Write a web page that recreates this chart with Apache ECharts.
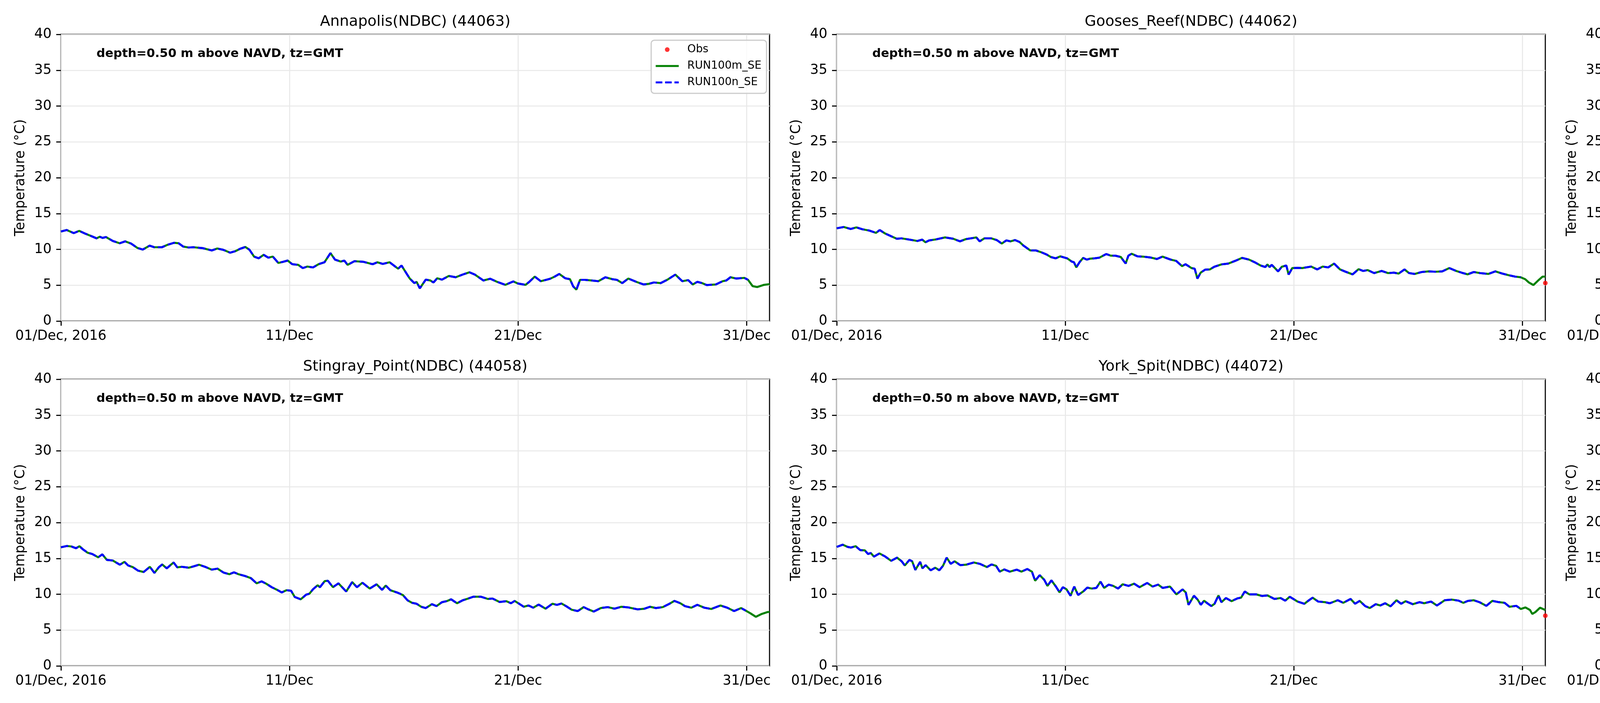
<!DOCTYPE html>
<html>
<head>
<meta charset="utf-8">
<script src="https://cdn.jsdelivr.net/npm/echarts@6/dist/echarts.min.js"></script>
<style>html,body{margin:0;padding:0;background:#fff}#c{width:6000px;height:1800px}</style>
</head>
<body>
<div id="c"></div>
<script>
// ---- data (x = days since 01/Dec/2016 00:00 GMT, y = temperature in degC) ----
const stationTitles = ['Annapolis(NDBC) (44063)', 'Gooses_Reef(NDBC) (44062)', 'Potomac(NDBC) (44042)',
  'Stingray_Point(NDBC) (44058)', 'York_Spit(NDBC) (44072)', 'First_Landing(NDBC) (44064)'];
const seriesNames = ['Obs', 'RUN100m_SE', 'RUN100n_SE'];
const xTickDays = [0, 10, 20, 30];
const xTickLabels = ['01/Dec, 2016', '11/Dec', '21/Dec', '31/Dec'];
const annotationText = 'depth=0.50 m above NAVD, tz=GMT';

// shared RUN100m/RUN100n values (both runs overlap to ~30 Dec)
const annapolisRun = [[0,12.49],[0.25,12.7],[0.56,12.27],[0.8,12.58],[1.06,12.2],[1.26,11.94],[1.56,11.54],[1.7,11.76],[1.82,11.6],[1.97,11.72],[2.27,11.17],[2.57,10.85],[2.81,11.12],[3.07,10.81],[3.34,10.21],[3.58,9.97],[3.88,10.52],[4.08,10.3],[4.42,10.3],[4.68,10.66],[4.95,10.92],[5.15,10.85],[5.35,10.39],[5.59,10.26],[5.79,10.3],[6.2,10.17],[6.6,9.85],[6.84,10.12],[7.1,9.94],[7.4,9.54],[7.64,9.76],[7.84,10.08],[8.07,10.34],[8.25,9.94],[8.45,8.99],[8.65,8.75],[8.87,9.24],[9.07,8.84],[9.27,8.99],[9.51,8.11],[9.71,8.26],[9.92,8.44],[10.12,7.93],[10.38,7.84],[10.58,7.39],[10.78,7.6],[11.03,7.48],[11.27,7.93],[11.53,8.2],[11.79,9.48],[11.99,8.57],[12.24,8.3],[12.4,8.43],[12.54,7.84],[12.84,8.35],[13.24,8.26],[13.64,7.93],[13.84,8.2],[14.08,7.97],[14.38,8.2],[14.75,7.3],[14.9,7.75],[15.15,6.48],[15.26,5.93],[15.46,5.29],[15.56,5.47],[15.7,4.56],[15.96,5.78],[16.16,5.66],[16.3,5.38],[16.46,5.97],[16.67,5.78],[16.97,6.29],[17.27,6.11],[17.57,6.48],[17.87,6.8],[18.11,6.48],[18.48,5.66],[18.78,5.9],[19.08,5.47],[19.44,5.05],[19.79,5.53],[19.99,5.24],[20.33,5.05],[20.49,5.47],[20.73,6.2],[20.99,5.56],[21.26,5.78],[21.4,5.9],[21.6,6.2],[21.8,6.57],[22.06,5.97],[22.27,5.84],[22.41,4.84],[22.55,4.38],[22.71,5.75],[22.91,5.75],[23.21,5.66],[23.51,5.56],[23.82,6.11],[24.12,5.84],[24.32,5.75],[24.56,5.29],[24.82,5.93],[25.17,5.47],[25.49,5.1],[25.73,5.2],[25.94,5.38],[26.24,5.29],[26.54,5.78],[26.88,6.48],[27.18,5.56],[27.44,5.71],[27.64,5.1],[27.84,5.47],[28.05,5.29],[28.25,5.02],[28.65,5.1],[28.95,5.56],[29.11,5.66],[29.29,6.11],[29.55,5.93],[29.9,6.02],[30.06,5.75]];
const annapolisTail = [[30.26,4.87],[30.46,4.74],[30.76,5.05],[31,5.15]];
const annapolisObs = [];

const goosesRun = [[0,12.94],[0.31,13.12],[0.61,12.85],[0.86,13.07],[1.12,12.81],[1.42,12.63],[1.72,12.3],[1.88,12.7],[2.12,12.21],[2.43,11.76],[2.63,11.48],[2.83,11.54],[3.13,11.39],[3.53,11.17],[3.74,11.36],[3.88,10.99],[4.04,11.25],[4.34,11.39],[4.74,11.67],[5.1,11.48],[5.39,11.12],[5.65,11.43],[5.95,11.58],[6.11,11.67],[6.25,11.12],[6.46,11.54],[6.76,11.54],[7.0,11.3],[7.22,10.81],[7.42,11.25],[7.6,11.12],[7.8,11.3],[8.0,11.03],[8.17,10.52],[8.31,10.21],[8.47,9.85],[8.71,9.85],[8.97,9.57],[9.17,9.3],[9.37,8.93],[9.58,8.75],[9.78,9.03],[10.08,8.75],[10.28,8.3],[10.38,8.2],[10.48,7.48],[10.62,8.2],[10.78,8.81],[10.94,8.57],[11.08,8.7],[11.29,8.75],[11.49,8.84],[11.79,9.35],[11.99,9.12],[12.19,9.12],[12.43,8.93],[12.64,8.02],[12.76,9.12],[12.9,9.39],[13.16,9.03],[13.4,8.99],[13.7,8.88],[14.01,8.66],[14.25,8.99],[14.61,8.57],[14.85,8.39],[15.11,7.66],[15.26,7.93],[15.52,7.39],[15.66,7.3],[15.78,5.93],[15.92,6.75],[16.12,7.17],[16.32,7.2],[16.52,7.57],[16.83,7.9],[17.13,8.02],[17.43,8.39],[17.73,8.81],[18.04,8.57],[18.28,8.21],[18.54,7.75],[18.75,7.53],[18.84,7.9],[18.94,7.53],[19.03,7.84],[19.17,7.39],[19.31,6.93],[19.47,7.57],[19.67,7.75],[19.77,6.48],[19.93,7.39],[20.17,7.42],[20.37,7.39],[20.76,7.6],[21.02,7.2],[21.26,7.6],[21.5,7.48],[21.76,8.02],[22.02,7.2],[22.26,6.88],[22.57,6.51],[22.83,7.24],[23.03,6.99],[23.23,7.11],[23.51,6.69],[23.84,6.99],[24.12,6.69],[24.38,6.75],[24.58,6.62],[24.84,7.2],[25.04,6.69],[25.28,6.57],[25.59,6.84],[25.89,6.93],[26.19,6.88],[26.49,6.93],[26.8,7.39],[27.1,6.99],[27.34,6.75],[27.6,6.51],[27.87,6.84],[28.15,6.69],[28.51,6.57],[28.81,6.93],[29.12,6.62],[29.42,6.38],[29.68,6.2],[29.92,6.11]];
const goosesTail = [[30.12,5.84],[30.28,5.38],[30.48,5.02],[30.72,5.75],[30.88,6.2],[31,6.2]];
const goosesObs = [[31,5.3]];

const potomacRun = [[0,15.62],[0.18,15.22],[0.38,15.13],[0.58,14.58],[0.68,14.67],[0.83,15.07],[0.99,14.4],[1.19,14.03],[1.39,13.8],[1.59,13.43],[1.79,13.8],[1.99,13.12],[2.2,12.89],[2.5,12.4],[2.74,12.52],[3.0,12.27],[3.3,11.79],[3.51,11.48],[3.67,11.76],[3.85,12.09],[4.01,11.79],[4.21,11.48],[4.31,11.98],[4.47,12.03],[4.61,11.72],[4.71,12.03],[4.88,13.98],[5.02,13.25],[5.22,13.43],[5.36,13.85],[5.52,13.36],[5.68,13.67],[5.92,13.4],[6.13,13.4],[6.37,13.4],[6.53,13.21],[6.77,13.25],[6.93,13.07],[7.13,12.81],[7.37,12.12],[7.54,12.58],[7.7,11.94],[7.94,12.4],[8.14,12.12],[8.38,11.67],[8.54,11.3],[8.79,11.54],[8.99,11.25],[9.25,10.81],[9.49,10.3],[9.65,10.7],[9.81,10.21],[9.99,9.97],[10.12,10.66],[10.26,9.66],[10.42,9.21],[10.66,10.39],[10.8,9.72],[10.96,9.43],[11.16,10.26],[11.4,10.03],[11.57,10.3],[11.73,11.07],[11.97,10.21],[12.17,10.94],[12.41,10.48],[12.57,10.94],[12.77,11.48],[12.98,10.76],[13.18,11.12],[13.48,10.48],[13.68,11.03],[13.88,10.94],[14.08,10.66],[14.39,10.39],[14.69,10.03],[14.93,9.66],[15.09,9.12],[15.23,8.66],[15.43,8.21],[15.7,7.9],[15.9,8.3],[16.1,8.02],[16.3,8.21],[16.6,7.93],[16.8,8.75],[16.97,9.21],[17.11,8.75],[17.41,9.57],[17.61,9.3],[17.91,10.03],[18.11,9.39],[18.32,9.66],[18.62,9.3],[18.92,9.48],[19.22,9.21],[19.52,8.88],[19.79,9.03],[20.07,8.84],[20.39,8.66],[20.73,8.57],[21.13,8.57],[21.44,8.11],[21.84,8.3],[22.14,7.93],[22.41,7.66],[22.75,8.02],[23.05,7.84],[23.41,7.53],[23.76,7.9],[23.96,7.75],[24.12,8.08],[24.36,7.79],[24.66,7.75],[24.86,8.21],[25.11,7.75],[25.31,7.66],[25.57,7.71],[25.92,7.93],[26.17,7.9],[26.58,7.97],[26.88,8.48],[27.18,8.15],[27.52,7.75],[27.85,8.11],[28.13,7.79],[28.45,7.66],[28.79,8.11],[29.09,7.75],[29.39,7.48],[29.69,7.57],[29.9,7.39]];
const potomacTail = [[30.2,7.06],[30.52,6.57],[30.72,6.93],[30.88,7.24],[31,7.2]];
const potomacObs = [[31,6.2]];

const stingrayRun = [[0,16.55],[0.26,16.73],[0.46,16.66],[0.66,16.42],[0.81,16.7],[0.97,16.24],[1.17,15.79],[1.37,15.61],[1.63,15.15],[1.81,15.57],[2.01,14.79],[2.27,14.7],[2.58,14.12],[2.78,14.52],[2.94,14.01],[3.14,13.79],[3.38,13.28],[3.62,13.1],[3.89,13.83],[4.09,12.97],[4.29,13.79],[4.43,14.15],[4.63,13.61],[4.79,14.06],[4.93,14.43],[5.09,13.75],[5.29,13.83],[5.6,13.7],[5.8,13.88],[6.04,14.12],[6.3,13.83],[6.6,13.43],[6.85,13.57],[7.11,13.03],[7.37,12.79],[7.57,13.06],[7.77,12.79],[8.05,12.55],[8.31,12.25],[8.56,11.52],[8.78,11.79],[8.98,11.47],[9.22,10.98],[9.46,10.61],[9.66,10.25],[9.87,10.56],[10.07,10.48],[10.23,9.61],[10.49,9.29],[10.73,9.94],[10.87,10.07],[11.03,10.7],[11.23,11.25],[11.33,10.98],[11.54,11.83],[11.68,11.88],[11.9,10.98],[12.14,11.52],[12.48,10.38],[12.74,11.7],[12.95,10.98],[13.19,11.61],[13.51,10.79],[13.81,11.39],[14.05,10.61],[14.21,11.21],[14.41,10.56],[14.7,10.25],[14.96,9.89],[15.16,9.16],[15.36,8.8],[15.56,8.67],[15.76,8.25],[15.96,8.07],[16.23,8.61],[16.43,8.34],[16.67,8.89],[16.87,9.03],[17.07,9.29],[17.33,8.74],[17.58,9.16],[17.82,9.4],[18.04,9.65],[18.38,9.65],[18.68,9.34],[18.88,9.4],[19.19,8.92],[19.49,9.03],[19.69,8.74],[19.85,9.07],[20.25,8.25],[20.46,8.43],[20.66,8.12],[20.9,8.56],[21.2,7.98],[21.5,8.67],[21.7,8.52],[21.9,8.7],[22.1,8.34],[22.35,7.83],[22.61,7.65],[22.87,8.2],[23.07,7.89],[23.31,7.58],[23.62,8.07],[23.92,8.2],[24.22,7.98],[24.52,8.25],[24.82,8.16],[25.23,7.89],[25.53,7.98],[25.77,8.25],[26.03,8.07],[26.33,8.2],[26.64,8.7],[26.84,9.07],[27.1,8.74],[27.3,8.34],[27.58,8.12],[27.84,8.52],[28.15,8.12],[28.45,7.94],[28.85,8.43],[29.15,8.12],[29.45,7.65],[29.76,8.07],[29.96,7.71]];
const stingrayTail = [[30.16,7.34],[30.4,6.85],[30.66,7.25],[30.92,7.52],[31,7.52]];
const stingrayObs = [];

const yorkRun = [[0,16.6],[0.26,16.91],[0.48,16.6],[0.62,16.51],[0.83,16.7],[1.03,16.15],[1.23,16.12],[1.37,15.61],[1.49,15.75],[1.63,15.25],[1.87,15.7],[2.13,15.24],[2.38,14.66],[2.64,15.1],[2.84,14.6],[2.98,14.01],[3.18,14.79],[3.3,14.6],[3.44,13.39],[3.65,14.52],[3.75,13.61],[3.89,14.06],[4.11,13.34],[4.31,13.7],[4.49,13.34],[4.65,13.97],[4.81,15.1],[4.99,14.24],[5.16,14.6],[5.4,14.06],[5.66,14.12],[6.0,14.43],[6.26,14.24],[6.57,13.79],[6.77,14.15],[6.97,13.97],[7.13,13.15],[7.33,13.46],[7.57,13.15],[7.88,13.43],[8.08,13.15],[8.34,13.52],[8.54,13.15],[8.68,11.88],[8.88,12.66],[9.08,12.01],[9.22,11.16],[9.39,11.94],[9.59,11.07],[9.75,10.25],[9.89,10.98],[10.05,10.7],[10.23,9.79],[10.39,11.07],[10.56,9.89],[10.8,10.43],[10.96,10.92],[11.16,10.79],[11.36,10.88],[11.54,11.76],[11.7,10.88],[11.9,11.34],[12.1,11.16],[12.31,10.79],[12.51,11.39],[12.77,11.16],[13.01,11.47],[13.25,10.98],[13.58,11.57],[13.82,11.07],[14.06,11.34],[14.26,10.88],[14.58,11.07],[14.86,9.98],[15.13,10.67],[15.27,10.25],[15.39,8.52],[15.63,9.79],[15.79,9.25],[15.93,8.52],[16.07,9.1],[16.23,8.7],[16.39,8.34],[16.53,8.67],[16.7,9.83],[16.83,8.89],[17.03,9.47],[17.27,9.03],[17.54,9.43],[17.69,9.52],[17.85,10.38],[18.05,9.98],[18.35,9.98],[18.61,9.76],[18.85,9.83],[19.15,9.34],[19.42,9.47],[19.62,9.1],[19.82,9.65],[20.16,8.98],[20.46,8.67],[20.66,9.16],[20.82,9.52],[21.06,8.98],[21.37,8.89],[21.57,8.74],[21.92,9.16],[22.16,8.8],[22.48,9.34],[22.68,8.67],[22.88,9.07],[23.12,8.34],[23.32,8.07],[23.58,8.61],[23.78,8.43],[23.99,8.74],[24.23,8.31],[24.49,9.16],[24.69,8.67],[24.89,9.03],[25.2,8.61],[25.5,8.89],[25.7,8.74],[26.0,8.98],[26.26,8.43],[26.6,9.16],[26.91,9.25],[27.21,9.1],[27.41,8.8],[27.61,9.07],[27.87,9.16],[28.12,8.89],[28.42,8.38],[28.68,9.07],[28.92,8.92],[29.22,8.8],[29.43,8.25],[29.73,8.38],[29.93,7.94]];
const yorkTail = [[30.13,8.16],[30.33,7.8],[30.43,7.25],[30.57,7.52],[30.77,8.12],[31,7.8]];
const yorkObs = [[31,7.0]];

const firstLandingRun = [[0,17.51],[0.18,17.78],[0.38,17.75],[0.52,16.9],[0.69,17.27],[0.85,16.84],[1.05,16.24],[1.15,16.6],[1.29,16.37],[1.45,16.55],[1.63,16.0],[1.79,16.24],[1.93,15.88],[2.06,14.92],[2.2,15.52],[2.4,15.64],[2.6,15.42],[2.74,14.97],[3.0,14.6],[3.26,14.24],[3.55,13.97],[3.71,14.97],[3.91,15.61],[4.11,15.61],[4.35,15.97],[4.51,15.7],[4.76,16.15],[4.92,15.97],[5.08,15.24],[5.28,15.57],[5.52,14.97],[5.76,15.52],[6.02,15.42],[6.33,15.06],[6.63,14.6],[6.87,14.92],[7.17,13.97],[7.44,14.12],[7.58,14.34],[7.74,14.06],[8.04,13.61],[8.3,13.79],[8.54,13.1],[8.78,13.28],[9.05,12.61],[9.25,12.79],[9.45,11.88],[9.65,12.06],[9.85,11.47],[9.99,12.01],[10.16,11.43],[10.3,10.16],[10.52,11.7],[10.66,12.15],[10.9,11.1],[11.06,12.61],[11.16,12.85],[11.36,12.34],[11.53,13.06],[11.73,13.1],[11.87,11.97],[12.07,12.12],[12.27,12.06],[12.47,11.88],[12.73,12.19],[13.02,12.06],[13.38,12.01],[13.68,12.43],[13.94,11.88],[14.18,12.06],[14.49,11.57],[14.69,11.64],[14.83,10.9],[15.09,10.78],[15.29,10.38],[15.49,10.43],[15.6,9.21],[15.7,10.38],[15.96,9.76],[16.16,10.34],[16.44,9.98],[16.64,11.43],[16.84,11.7],[17.05,10.98],[17.25,11.61],[17.51,11.61],[17.71,11.97],[17.85,12.37],[18.05,11.97],[18.25,11.43],[18.42,10.52],[18.58,9.98],[18.82,10.92],[19.08,10.12],[19.32,10.85],[19.58,10.12],[19.87,11.29],[20.07,10.56],[20.27,10.16],[20.43,10.61],[20.63,9.25],[20.87,10.48],[21.2,9.4],[21.44,10.3],[21.64,9.89],[21.88,10.38],[22.08,9.71],[22.45,9.61],[22.81,9.71],[23.05,9.43],[23.29,9.16],[23.49,10.01],[23.76,9.71],[24.02,9.89],[24.26,8.98],[24.5,9.71],[24.66,9.21],[24.96,9.4],[25.23,9.16],[25.47,9.34],[25.71,9.47],[25.97,9.21],[26.17,9.58],[26.38,9.25],[26.58,10.16],[26.72,10.38],[26.92,10.07],[27.18,9.43],[27.48,9.43],[27.89,9.4],[28.19,9.34],[28.39,9.16],[28.59,9.98],[28.79,10.25],[29.0,9.52],[29.2,9.43],[29.46,8.74],[29.7,9.34],[29.86,8.74]];
const firstLandingTail = [[30.1,8.8],[30.3,8.34],[30.55,8.49],[30.7,8.43],[30.81,8.85],[31,8.31]];
const firstLandingObs = [];

const yMin = 0, yMax = 40, yStep = 5;

// ---- layout / style ----
const FONT = 'DejaVu Sans';
const gridLefts = [156, 2142, 4128];
const gridTops = [88, 971];
const GW = 1814, GH = 734;
const AX = 2.8;

const panels = [
  [annapolisRun, annapolisTail, annapolisObs],
  [goosesRun, goosesTail, goosesObs],
  [potomacRun, potomacTail, potomacObs],
  [stingrayRun, stingrayTail, stingrayObs],
  [yorkRun, yorkTail, yorkObs],
  [firstLandingRun, firstLandingTail, firstLandingObs]
];

const grid = [], xAxis = [], yAxis = [], series = [], title = [];
panels.forEach((p, i) => {
  const left = gridLefts[i % 3], top = gridTops[Math.floor(i / 3)];
  grid.push({left: left, top: top, width: GW, height: GH, show: true,
    borderColor: '#000', borderWidth: AX, backgroundColor: 'transparent', containLabel: false});
  xAxis.push({type: 'value', gridIndex: i, min: 0, max: 31, interval: 10,
    axisLine: {show: false},
    axisTick: {show: true, length: 12, lineStyle: {color: '#000', width: AX}, customValues: xTickDays},
    axisLabel: {show: true, margin: 21, color: '#000', fontFamily: FONT, fontSize: 34.7,
      customValues: xTickDays, formatter: v => xTickLabels[xTickDays.indexOf(Math.round(v))] || ''},
    splitLine: {show: true, lineStyle: {color: '#e8e8e8', width: 2.6}}
  });
  yAxis.push({type: 'value', gridIndex: i, min: yMin, max: yMax, interval: yStep,
    name: 'Temperature (\u00B0C)', nameLocation: 'middle', nameGap: 86,
    nameTextStyle: {color: '#000', fontFamily: FONT, fontSize: 34.7},
    axisLine: {show: false},
    axisTick: {show: true, length: 12, lineStyle: {color: '#000', width: AX}},
    axisLabel: {show: true, margin: 24, color: '#000', fontFamily: FONT, fontSize: 34.7},
    splitLine: {show: true, lineStyle: {color: '#e8e8e8', width: 2.6}}
  });
  title.push({text: stationTitles[i], left: left + GW / 2, top: top - 51, textAlign: 'center', padding: 0,
    textStyle: {color: '#000', fontFamily: FONT, fontSize: 38, fontWeight: 'normal'}});
  title.push({text: annotationText, left: left + 91, top: top + 34, padding: 0,
    textStyle: {color: '#000', fontFamily: FONT, fontSize: 31, fontWeight: 'bold'}});
  const [run, tail, obs] = p;
  series.push({name: seriesNames[0], type: 'scatter', xAxisIndex: i, yAxisIndex: i,
    data: obs, symbol: 'circle', symbolSize: 12, itemStyle: {color: '#ff0000'}, z: 4});
  series.push({name: seriesNames[1], type: 'line', xAxisIndex: i, yAxisIndex: i,
    data: run.concat(tail), symbol: 'none', smooth: false,
    lineStyle: {color: '#008000', width: 5.2}, itemStyle: {color: '#008000'}, z: 2});
  series.push({name: seriesNames[2], type: 'line', xAxisIndex: i, yAxisIndex: i,
    data: run, symbol: 'none', smooth: false,
    lineStyle: {color: '#0000ff', width: 5.2, type: [19, 8]}, itemStyle: {color: '#0000ff'}, z: 3});
});

const chart = echarts.init(document.getElementById('c'), null, {renderer: 'canvas'});
chart.setOption({
  animation: false,
  backgroundColor: '#fff',
  title: title,
  legend: {
    data: [
      {name: 'Obs', icon: 'circle'},
      {name: 'RUN100m_SE', itemStyle: {opacity: 0}, lineStyle: {color: '#008000', width: 5.2, type: 'solid', opacity: 1}},
      {name: 'RUN100n_SE', itemStyle: {opacity: 0}, lineStyle: {color: '#0000ff', width: 5.2, type: [17, 7], opacity: 1}}
    ],
    orient: 'vertical', left: 1667, top: 103,
    padding: [9, 13, 13, 9], itemGap: 12, itemWidth: 59, itemHeight: 12,
    borderColor: '#cccccc', borderWidth: 3, borderRadius: 8, backgroundColor: 'rgba(255,255,255,0.8)',
    textStyle: {color: '#000', fontFamily: FONT, fontSize: 27.8, lineHeight: 30, padding: [0, 0, 0, 17]},
    selectedMode: false
  },
  grid: grid, xAxis: xAxis, yAxis: yAxis, series: series
});
</script>
</body>
</html>
